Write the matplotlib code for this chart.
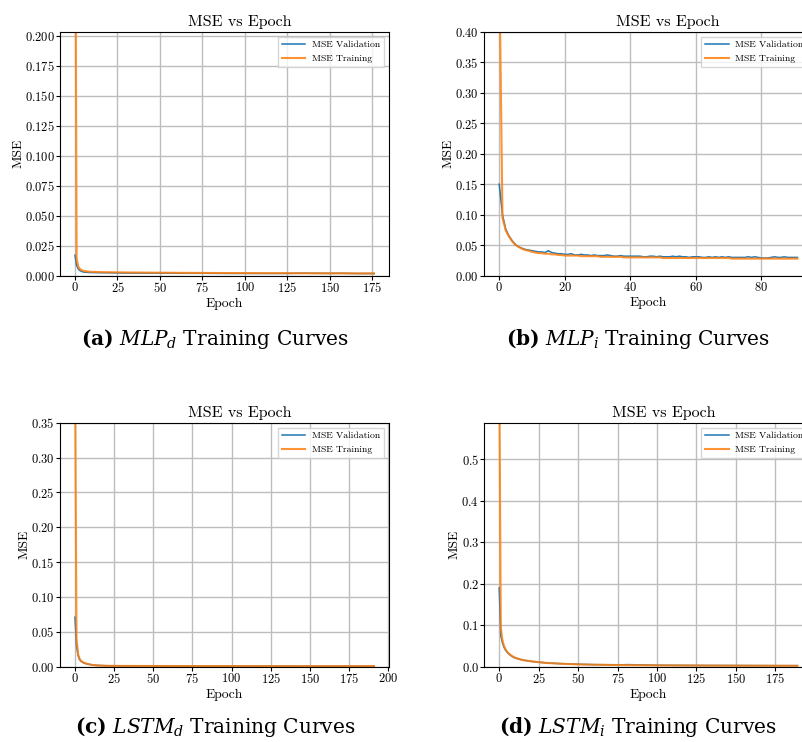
import matplotlib
matplotlib.use('Agg')
import matplotlib.pyplot as plt
from matplotlib.ticker import MultipleLocator

# panel (a) MLP_d
epochs_a = [0, 1, 2, 3, 4, 5, 6, 8, 10, 15, 20, 25, 30, 40, 50, 60, 75, 90,
            100, 110, 125, 135, 140, 150, 157, 165, 176]
val_a = [0.0170, 0.0085, 0.0055, 0.0042, 0.0035, 0.0031, 0.0029, 0.0027, 0.0026,
         0.0025, 0.0024, 0.0023, 0.0022, 0.0021, 0.0021, 0.0020, 0.0020, 0.0019,
         0.0019, 0.0019, 0.0019, 0.0021, 0.0020, 0.0019, 0.0020, 0.0018, 0.0018]
train_a = [0.40, 0.0140, 0.0075, 0.0055, 0.0046, 0.0041, 0.0038, 0.0034, 0.0032,
           0.0030, 0.0029, 0.0028, 0.0027, 0.0026, 0.0025, 0.0024, 0.0023, 0.0022,
           0.0022, 0.0021, 0.0021, 0.0020, 0.0020, 0.0020, 0.0020, 0.0019, 0.0019]

# panel (b) MLP_i, every epoch 0..91
epochs_b = list(range(92))
val_b = [0.150, 0.100, 0.076, 0.065, 0.057, 0.051, 0.047, 0.045, 0.043, 0.042,
         0.041, 0.040, 0.039, 0.039, 0.038, 0.041, 0.038, 0.037, 0.036, 0.036,
         0.035, 0.035, 0.036, 0.034, 0.034, 0.035, 0.034, 0.034, 0.033, 0.034,
         0.033, 0.033, 0.033, 0.034, 0.033, 0.032, 0.032, 0.033, 0.032, 0.032,
         0.032, 0.032, 0.032, 0.032, 0.031, 0.031, 0.032, 0.032, 0.031, 0.032,
         0.031, 0.031, 0.031, 0.032, 0.031, 0.032, 0.031, 0.031, 0.030, 0.031,
         0.031, 0.031, 0.030, 0.030, 0.031, 0.030, 0.031, 0.030, 0.031, 0.030,
         0.031, 0.030, 0.030, 0.030, 0.030, 0.030, 0.031, 0.030, 0.031, 0.030,
         0.029, 0.029, 0.029, 0.030, 0.031, 0.030, 0.030, 0.031, 0.030, 0.030,
         0.030, 0.030]
train_b = [0.520, 0.095, 0.074, 0.064, 0.056, 0.050, 0.047, 0.044, 0.042, 0.041,
           0.039, 0.038, 0.037, 0.037, 0.036, 0.036, 0.035, 0.035, 0.034, 0.034,
           0.033, 0.033, 0.033, 0.033, 0.033, 0.032, 0.032, 0.032, 0.032, 0.032,
           0.032, 0.031, 0.031, 0.031, 0.031, 0.031, 0.031, 0.031, 0.030, 0.030,
           0.030, 0.030, 0.030, 0.030, 0.030, 0.030, 0.030, 0.030, 0.030, 0.030,
           0.029, 0.029, 0.029, 0.029, 0.029, 0.029, 0.029, 0.029, 0.029, 0.029,
           0.029, 0.029, 0.029, 0.029, 0.029, 0.029, 0.029, 0.029, 0.029, 0.029,
           0.029, 0.028, 0.028, 0.028, 0.028, 0.028, 0.028, 0.028, 0.028, 0.028,
           0.028, 0.028, 0.028, 0.028, 0.028, 0.028, 0.028, 0.028, 0.028, 0.028,
           0.028, 0.028]

# panel (c) LSTM_d
epochs_c = [0, 1, 2, 3, 4, 5, 6, 8, 10, 12, 15, 20, 25, 30, 50, 75, 100, 125,
            150, 175, 191]
val_c = [0.071, 0.030, 0.016, 0.010, 0.0075, 0.0062, 0.0050, 0.0038, 0.0030,
         0.0023, 0.0018, 0.0014, 0.0012, 0.0011, 0.0010, 0.0009, 0.0009, 0.0009,
         0.0008, 0.0008, 0.0008]
train_c = [0.45, 0.040, 0.018, 0.011, 0.008, 0.0065, 0.0055, 0.0040, 0.0030,
           0.0022, 0.0017, 0.0013, 0.0012, 0.0011, 0.0010, 0.0009, 0.0009, 0.0008,
           0.0008, 0.0008, 0.0008]

# panel (d) LSTM_i
epochs_d = [0, 1, 2, 3, 4, 5, 6, 8, 10, 12, 15, 20, 25, 30, 40, 50, 60, 75, 82,
            100, 125, 150, 175, 189]
val_d = [0.190, 0.075, 0.058, 0.047, 0.040, 0.035, 0.031, 0.025, 0.021, 0.019,
         0.016, 0.013, 0.011, 0.009, 0.0072, 0.0060, 0.0050, 0.0045, 0.0050,
         0.0035, 0.0030, 0.0028, 0.0025, 0.0025]
train_d = [0.75, 0.095, 0.065, 0.050, 0.042, 0.036, 0.032, 0.026, 0.022, 0.019,
           0.016, 0.013, 0.011, 0.009, 0.0070, 0.0055, 0.0048, 0.0040, 0.0038,
           0.0032, 0.0028, 0.0025, 0.0023, 0.0022]

captions = [r'$\mathbf{(a)}$ $MLP_d$ Training Curves',
            r'$\mathbf{(b)}$ $MLP_i$ Training Curves',
            r'$\mathbf{(c)}$ $LSTM_d$ Training Curves',
            r'$\mathbf{(d)}$ $LSTM_i$ Training Curves']

plt.rcParams['font.family'] = 'cmr10'
plt.rcParams['axes.formatter.use_mathtext'] = True
plt.rcParams['mathtext.fontset'] = 'custom'
plt.rcParams['mathtext.rm'] = 'DejaVu Serif'
plt.rcParams['mathtext.it'] = 'DejaVu Serif:italic'
plt.rcParams['mathtext.bf'] = 'DejaVu Serif:bold'

W, H = 803, 742
fig = plt.figure(figsize=(W / 100, H / 100), dpi=100)


def make_panel(rect, x, val, train, ytop, xstep, ystep, title_x):
    ax = fig.add_axes([rect[0] / W, 1 - rect[1] / H, rect[2] / W, 244 / H])
    ax.plot(x, val, color='#1f77b4', lw=1.1, label='MSE Validation')
    ax.plot(x, train, color='#ff7f0e', lw=1.5, alpha=0.85, label='MSE Training')
    span = x[-1] - x[0]
    ax.set_xlim(-0.05 * span, x[-1] + 0.05 * span)
    ax.set_ylim(0, ytop)
    ax.xaxis.set_major_locator(MultipleLocator(xstep))
    ax.yaxis.set_major_locator(MultipleLocator(ystep))
    ax.grid(True, color='#bdbdbd', lw=1.0)
    ax.set_axisbelow(True)
    ax.set_title('MSE vs Epoch', x=title_x, fontsize=11.5, pad=4)
    ax.set_xlabel('Epoch', fontsize=9.8, labelpad=2)
    ax.set_ylabel('MSE', fontsize=9.8, labelpad=0.5)
    ax.tick_params(labelsize=9.0, length=3, pad=0.8)
    ax.legend(loc='upper right', fontsize=7, handlelength=2.4,
              handletextpad=0.7, fancybox=False)
    return ax


# rect = left px, bottom px, width px
make_panel((60, 275.7, 329), epochs_a, val_a, train_a, 0.2033, 25, 0.025, 0.547)
make_panel((484.3, 275.7, 328), epochs_b, val_b, train_b, 0.40, 20, 0.05, 0.56)
make_panel((60, 666.7, 329), epochs_c, val_c, train_c, 0.35, 25, 0.05, 0.547)
make_panel((484.3, 666.7, 328), epochs_d, val_d, train_d, 0.588, 25, 0.1, 0.546)

cap_kw = dict(ha='center', va='baseline', fontsize=14.5, family='DejaVu Serif')
fig.text(215 / W, 1 - 345 / H, captions[0], **cap_kw)
fig.text(638 / W, 1 - 345 / H, captions[1], **cap_kw)
fig.text(215 / W, 1 - 733 / H, captions[2], **cap_kw)
fig.text(638 / W, 1 - 733 / H, captions[3], **cap_kw)

fig.savefig('out.png', dpi=100)
